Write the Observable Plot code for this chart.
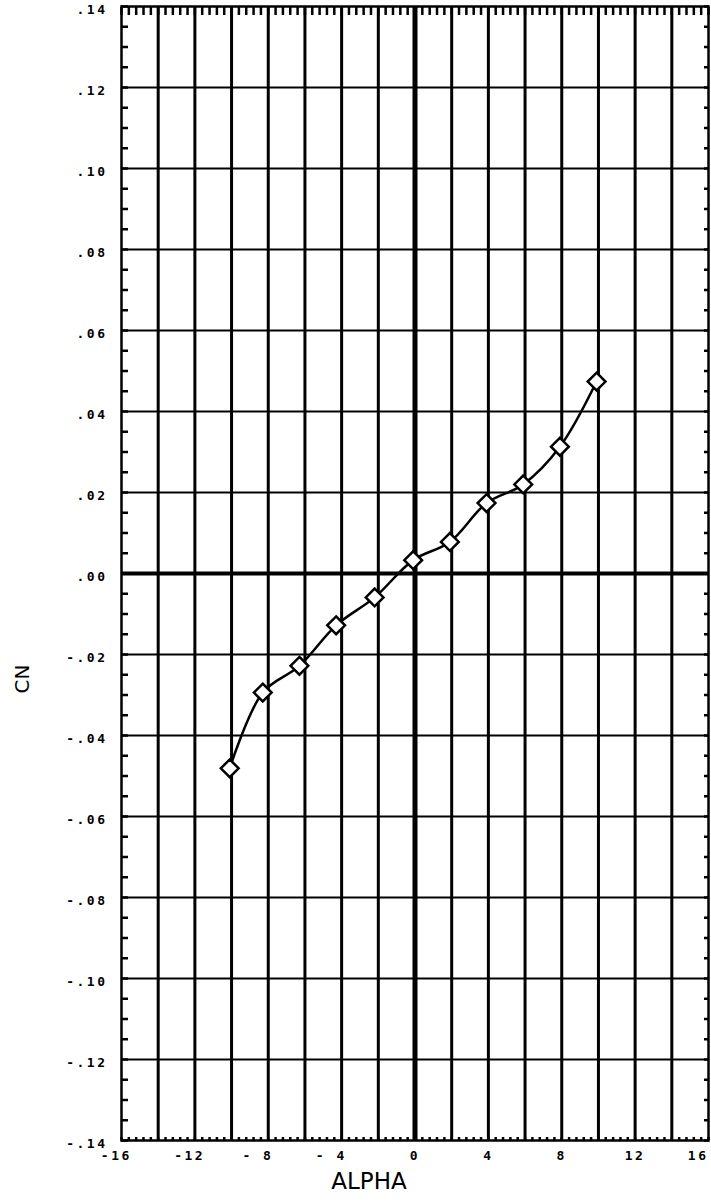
<!DOCTYPE html>
<html>
<head>
<meta charset="utf-8">
<script src="https://cdn.jsdelivr.net/npm/d3@7"></script>
<script src="https://cdn.jsdelivr.net/npm/@observablehq/plot@0.6"></script>
<style>
  html, body { margin: 0; padding: 0; background: #fff; }
  #chart svg { display: block; }
  g[aria-label="x-axis tick label"] text,
  g[aria-label="y-axis tick label"] text { letter-spacing: 2.5px; }
</style>
</head>
<body>
<div id="chart"></div>
<script>
// Data
const alpha = [-10.1, -8.3, -6.3, -4.3, -2.2, -0.1, 1.9, 3.9, 5.9, 7.9, 9.9];
const cn    = [-0.0481, -0.0294, -0.0228, -0.0128, -0.0059, 0.0033, 0.0078, 0.0174, 0.0220, 0.0313, 0.0474];

// Axis tick values and labels
const xTicks = [-16, -12, -8, -4, 0, 4, 8, 12, 16];
const xTickLabels = ["-16", "-12", "- 8", "- 4", "0", "4", "8", "12", "16"];
const yTicks = [0.14, 0.12, 0.10, 0.08, 0.06, 0.04, 0.02, 0.00, -0.02, -0.04, -0.06, -0.08, -0.10, -0.12, -0.14];
const yTickLabels = [".14", ".12", ".10", ".08", ".06", ".04", ".02", ".00", "-.02", "-.04", "-.06", "-.08", "-.10", "-.12", "-.14"];
const xGrid = [-14, -12, -10, -8, -6, -4, -2, 2, 4, 6, 8, 10, 12, 14];
const yGrid = [-0.12, -0.10, -0.08, -0.06, -0.04, -0.02, 0.02, 0.04, 0.06, 0.08, 0.10, 0.12];
const xMinor = d3.range(-40, 41).map(i => i * 0.4);
const yMinor = d3.range(-28, 29).map(i => i * 0.005);

const data = alpha.map((a, i) => ({alpha: a, cn: cn[i]}));

const xLabelOf = new Map(xTicks.map((t, i) => {
  const s = xTickLabels[i];
  const digits = s.replace(/[-\s]/g, "");
  const pad = s.length - digits.length;
  return [t, s.replace(/ /g, "\u00a0") + "\u00a0".repeat(pad)];
}));
const yLabelOf = new Map(yTicks.map((t, i) => [t, yTickLabels[i]]));
const xLast = xTicks[xTicks.length - 1];

const font = "DejaVu Sans Mono";
const labelStyle = {fontFamily: font, fontWeight: "bold", fontSize: 13, label: null};

const chart = Plot.plot({
  width: 711,
  height: 1204,
  marginLeft: 121,
  marginRight: 3,
  marginTop: 6,
  marginBottom: 64,
  x: {domain: [-16, 16], axis: null},
  y: {domain: [-0.14, 0.14], axis: null},
  style: {background: "white", color: "black", fontFamily: font, fontSize: "13px", fontWeight: "bold"},
  marks: [
    // grid
    Plot.ruleX(xGrid, {stroke: "black", strokeWidth: 3}),
    Plot.ruleY(yGrid, {stroke: "black", strokeWidth: 2}),
    Plot.ruleX([0], {stroke: "black", strokeWidth: 5}),
    Plot.ruleY([0], {stroke: "black", strokeWidth: 4}),
    Plot.frame({stroke: "black", strokeWidth: 2.5}),
    // minor ticks
    Plot.axisY(yMinor, {anchor: "left", tickSize: -7, tickFormat: () => "", strokeWidth: 2.5, label: null}),
    Plot.axisY(yMinor, {anchor: "right", tickSize: -5, tickFormat: () => "", strokeWidth: 2.5, label: null}),
    Plot.axisX(xMinor, {anchor: "top", tickSize: -8, tickFormat: () => "", strokeWidth: 2.5, label: null}),
    Plot.axisX(xMinor, {anchor: "bottom", tickSize: -3, tickFormat: () => "", strokeWidth: 2.5, label: null}),
    // tick labels
    Plot.axisX(xTicks.filter(t => t !== xLast), {anchor: "bottom", tickSize: 0, tickPadding: 10,
      tickFormat: d => xLabelOf.get(d), ...labelStyle}),
    Plot.axisX([xLast], {anchor: "bottom", tickSize: 0, tickPadding: 10, textAnchor: "end", dx: 0,
      tickFormat: d => xLabelOf.get(d), ...labelStyle}),
    Plot.axisY(yTicks, {anchor: "left", tickSize: 0, tickPadding: 14, dy: 3,
      tickFormat: d => yLabelOf.get(d), ...labelStyle}),
    // axis titles
    Plot.text(["ALPHA"], {frameAnchor: "bottom", dx: -46, dy: 48, text: d => d,
      fontFamily: "DejaVu Sans", fontWeight: "normal", fontSize: 23}),
    Plot.text(["CN"], {frameAnchor: "left", rotate: -90, dx: -99, dy: 120, text: d => d,
      fontFamily: "DejaVu Sans", fontWeight: "normal", fontSize: 20}),
    // data
    Plot.line(data, {x: "alpha", y: "cn", curve: "catmull-rom", stroke: "black", strokeWidth: 2.5}),
    Plot.dot(data, {x: "alpha", y: "cn", symbol: "diamond2", r: 8, fill: "white", stroke: "black", strokeWidth: 2.5})
  ]
});
document.getElementById("chart").appendChild(chart);
</script>
</body>
</html>
